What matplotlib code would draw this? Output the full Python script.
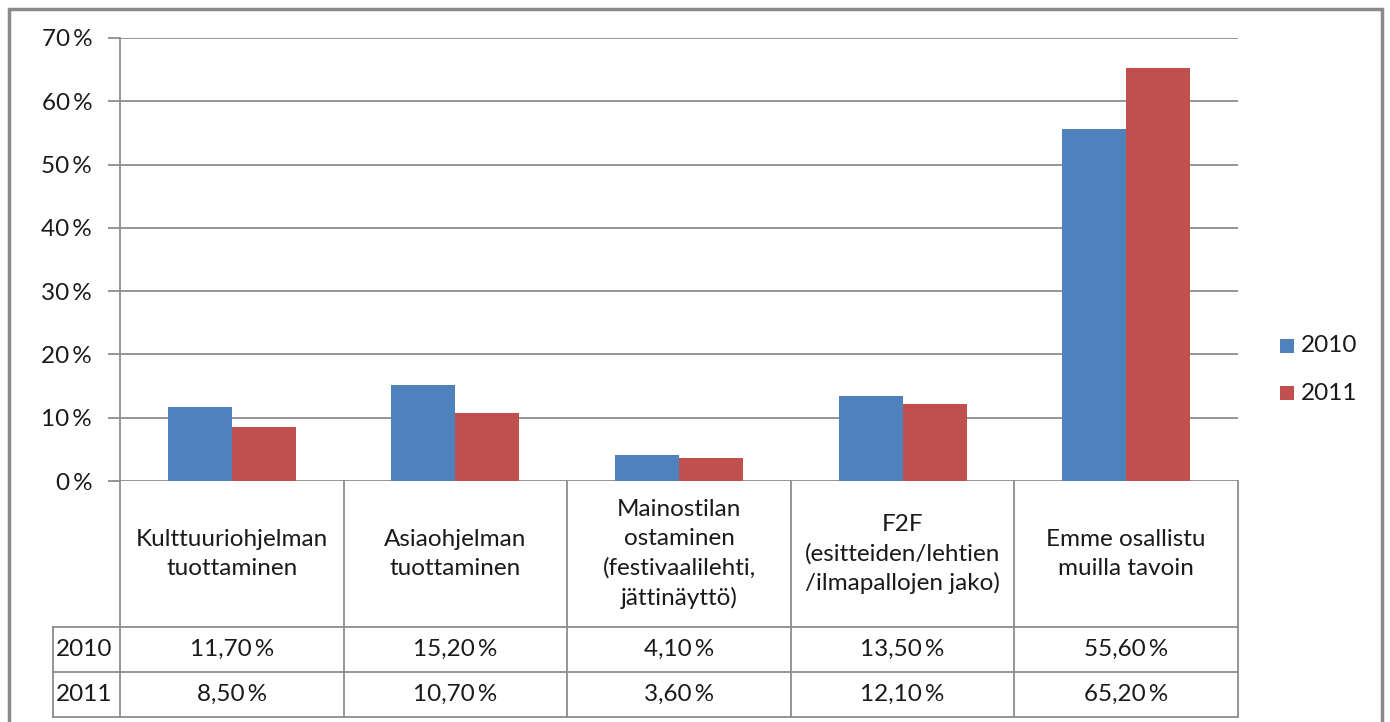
import matplotlib
matplotlib.use("Agg")
import matplotlib.pyplot as plt
import matplotlib.transforms as mtransforms
from matplotlib.patches import Rectangle
from matplotlib.lines import Line2D

# ---- data ----
categories = [
    "Kulttuuriohjelman\ntuottaminen",
    "Asiaohjelman\ntuottaminen",
    "Mainostilan\nostaminen\n(festivaalilehti,\njättinäyttö)",
    "F2F\n(esitteiden/lehtien\n/ilmapallojen jako)",
    "Emme osallistu\nmuilla tavoin",
]
series_names = ["2010", "2011"]
values_2010 = [11.7, 15.2, 4.1, 13.5, 55.6]
values_2011 = [8.5, 10.7, 3.6, 12.1, 65.2]
table_2010 = ["11,70\u2009%", "15,20\u2009%", "4,10\u2009%", "13,50\u2009%", "55,60\u2009%"]
table_2011 = ["8,50\u2009%", "10,70\u2009%", "3,60\u2009%", "12,10\u2009%", "65,20\u2009%"]
yticks = [0, 10, 20, 30, 40, 50, 60, 70]
ytick_labels = ["0\u2009%", "10\u2009%", "20\u2009%", "30\u2009%", "40\u2009%", "50\u2009%", "60\u2009%", "70\u2009%"]

# ---- style ----
W, H = 1390, 722
BLUE = "#4F81BD"
RED = "#C0504D"
GRID = "#8c8c8c"
TXT = "#1a1a1a"
FONT = ["Lato", "DejaVu Sans"]
FS = 17.5

plt.rcParams["font.family"] = FONT

fig = plt.figure(figsize=(W / 100, H / 100), dpi=100)

def fx(p):
    return p / W

def fy(p):
    return 1 - p / H

ax_l, ax_r, ax_t, ax_b = 120, 1238, 38, 481
ax = fig.add_axes([fx(ax_l), fy(ax_b), fx(ax_r) - fx(ax_l), fy(ax_t) - fy(ax_b)])

n = len(categories)
xs = list(range(n))
bw = 0.286
ax.bar([x - bw / 2 for x in xs], values_2010, width=bw, color=BLUE, label=series_names[0], zorder=3)
ax.bar([x + bw / 2 for x in xs], values_2011, width=bw, color=RED, label=series_names[1], zorder=3)

ax.set_xlim(-0.5, n - 0.5)
ax.set_ylim(0, 70)
ax.set_yticks(yticks)
ax.set_yticklabels(ytick_labels, fontsize=FS, color=TXT)
ax.set_xticks([])
ax.tick_params(axis="y", length=9, width=1.3, color=GRID, pad=11)
ax.yaxis.grid(True, color=GRID, linewidth=1.3, zorder=0)
ax.set_axisbelow(True)
for s in ["top", "right", "bottom"]:
    ax.spines[s].set_visible(False)
ax.spines["left"].set_color(GRID)
ax.spines["left"].set_linewidth(1.3)

# ---- data table below ----
bt = mtransforms.blended_transform_factory(ax.transData, fig.transFigure)
hdr_top, row1_top, row2_top, tbl_bot = 481, 627, 672, 717
col_left = 53

for k in range(n + 1):
    xb = k - 0.5
    ax.add_line(Line2D([xb, xb], [fy(hdr_top), fy(tbl_bot)], transform=bt,
                       color=GRID, linewidth=1.3, clip_on=False))
for yy in [row1_top, row2_top, tbl_bot]:
    fig.add_artist(Line2D([fx(col_left), fx(ax_r)], [fy(yy), fy(yy)],
                          color=GRID, linewidth=1.3))
fig.add_artist(Line2D([fx(col_left), fx(col_left)], [fy(row1_top), fy(tbl_bot)],
                      color=GRID, linewidth=1.3))

hdr_c = (hdr_top + row1_top) / 2
for i, c in enumerate(categories):
    ax.text(i, fy(hdr_c), c, transform=bt, ha="center", va="center",
            fontsize=FS, color=TXT, linespacing=1.45, clip_on=False)

r1c = (row1_top + row2_top) / 2
r2c = (row2_top + tbl_bot) / 2
for i in range(n):
    ax.text(i, fy(r1c), table_2010[i], transform=bt, ha="center", va="center",
            fontsize=FS, color=TXT, clip_on=False)
    ax.text(i, fy(r2c), table_2011[i], transform=bt, ha="center", va="center",
            fontsize=FS, color=TXT, clip_on=False)
fig.text(fx(56), fy(r1c), series_names[0], ha="left", va="center", fontsize=FS, color=TXT)
fig.text(fx(56), fy(r2c), series_names[1], ha="left", va="center", fontsize=FS, color=TXT)

# ---- legend ----
for name, col, yc in [(series_names[0], BLUE, 346), (series_names[1], RED, 393)]:
    fig.add_artist(Rectangle((fx(1280), fy(yc + 7)), fx(14), 14 / H,
                             facecolor=col, edgecolor="none"))
    fig.text(fx(1301), fy(yc), name, ha="left", va="center", fontsize=FS, color=TXT)

# ---- outer frame ----
fig.add_artist(Rectangle((fx(9), fy(735)), fx(1382 - 9), (735 - 9) / H,
                         facecolor="none", edgecolor="#8a8a8a", linewidth=2.5))

fig.savefig("out.png", dpi=100, facecolor="white")
